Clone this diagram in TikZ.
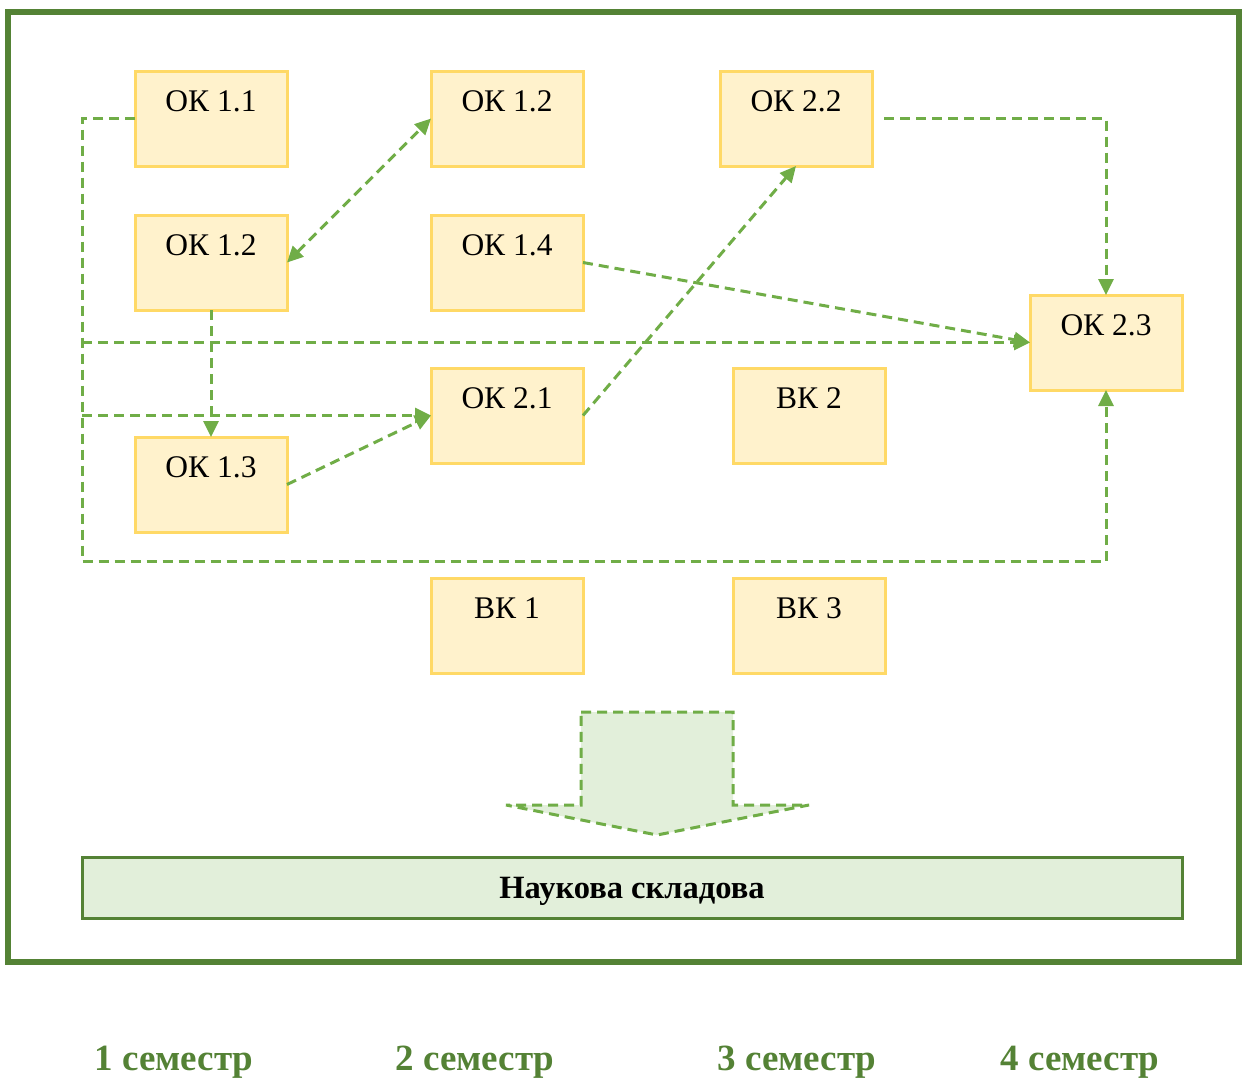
\documentclass[tikz,border=0pt]{standalone}
\usepackage{fontspec}
\setmainfont{Liberation Serif}
\usetikzlibrary{positioning, arrows.meta}
\definecolor{okfill}{HTML}{FFF2CC}
\definecolor{okdraw}{HTML}{FFD966}
\definecolor{linkgreen}{HTML}{70AD47}
\definecolor{framegreen}{HTML}{548235}
\definecolor{barfill}{HTML}{E2EFDA}

\begin{document}
\begin{tikzpicture}[x=1pt, y=-1pt, >={Triangle[length=16pt,width=15pt]},
		box/.style={draw=okdraw, fill=okfill, line width=3pt, outer sep=0pt, inner sep=0pt,
			minimum width=152pt, text height=40pt, text depth=55pt, font=\fontsize{31.5}{38}\selectfont},
		link/.style={draw=linkgreen, line width=3pt, dash pattern=on 10pt off 6pt, ->},
		sem/.style={text=framegreen, anchor=base, font=\fontsize{37}{44}\selectfont\bfseries}]
		\useasboundingbox (0,0) rectangle (1248,1079);
		\draw[framegreen, line width=6pt] (8,12) rectangle (1239,962);
		
		\node[box] (ok11) at (211,118.5) {ОК 1.1};
		\node[box, right=144pt of ok11] (ok12a) {ОК 1.2};
		\node[box, right=137pt of ok12a] (ok22) {ОК 2.2};
		\node[box, below=49pt of ok11] (ok12b) {ОК 1.2};
		\node[box, right=144pt of ok12b] (ok14) {ОК 1.4};
		\node[box, below=58pt of ok14] (ok21) {ОК 2.1};
		\node[box, right=150pt of ok21] (bk2) {ВК 2};
		\node[box, below=127pt of ok12b] (ok13) {ОК 1.3};
		\node[box, below=115pt of ok21] (bk1) {ВК 1};
		\node[box, below=115pt of bk2] (bk3) {ВК 3};
		\node[box] (ok23) at (1106,342.5) {ОК 2.3};
		
		\coordinate (busTop) at (82,118.5);
		\coordinate (busBot) at (82,561);
		
		\draw[link] (ok11.west) -- (busTop) -- (busBot) -| (ok23.south);
		\draw[link] (busTop |- ok23.west) -- (ok23.west);
		\draw[link] (busTop |- ok21.west) -- (ok21.west);
		\draw[link, <->] (ok12b.east) -- (ok12a.west);
		\draw[link] (ok12b.south) -- (ok13.north);
		\draw[link] (ok13.east) -- (ok21.west);
		\draw[link] (ok21.east) -- (ok22.south);
		\draw[link] (ok14.east) -- (ok23.west);
		\draw[link, shorten <=12pt] (ok22.east) -| (ok23.north);
		
		% arrow down to the research part
		\draw[draw=linkgreen, fill=barfill, line width=3pt, dash pattern=on 10pt off 6pt]
			(581,712) -- (733,712) -- (733,805) -- (809,805) -- (657,835) -- (506,805) -- (581,805) -- cycle;
		\node[draw=framegreen, fill=barfill, line width=3pt, inner sep=0pt, minimum width=1100pt, minimum height=61pt,
			text height=22pt, text depth=0pt, font=\fontsize{32.5}{38}\selectfont\bfseries] (science) at (632,887.5) {Наукова складова};
		
		\node[sem] (sem1) at (174,1070) {1 семестр};
		\node[sem] (sem2) at (475,1070) {2 семестр};
		\node[sem] (sem3) at (797,1070) {3 семестр};
		\node[sem] (sem4) at (1080,1070) {4 семестр};
	\end{tikzpicture}
\end{document}
